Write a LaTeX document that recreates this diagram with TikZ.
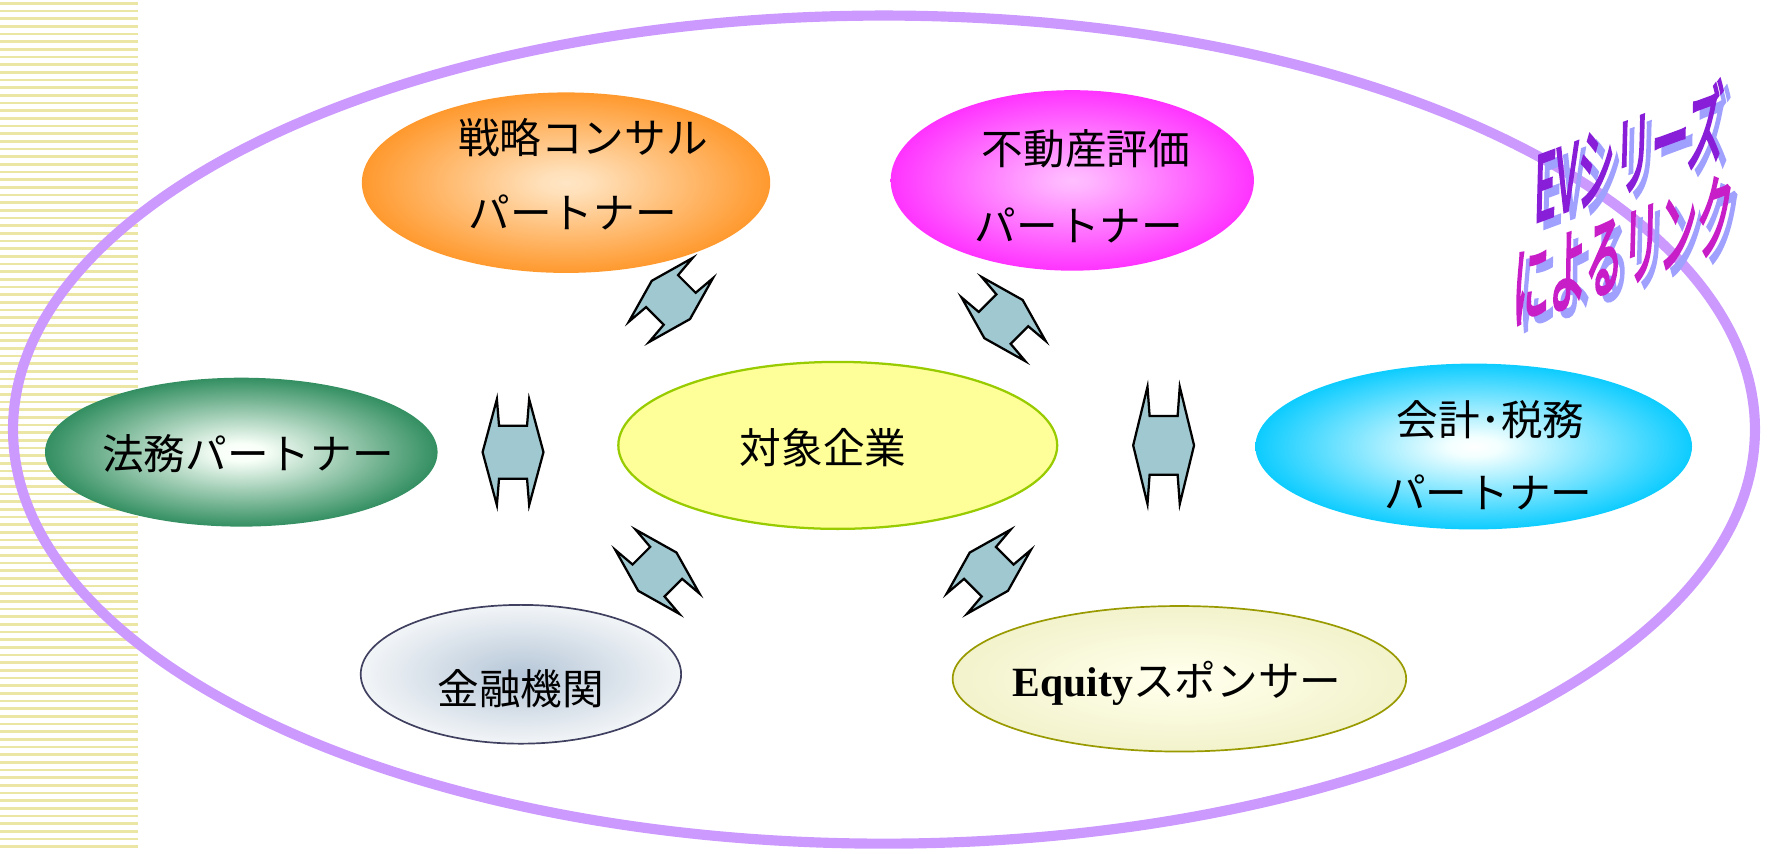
\documentclass[tikz,border=0pt]{standalone}
\usepackage{fontspec}
\setmainfont{Noto Sans CJK JP}
\newfontfamily\tms{Liberation Serif}
\newfontfamily\wafont{Noto Sans CJK JP}[FakeBold=4,FakeSlant=0.22]
\usetikzlibrary{shapes.geometric}
\pgfdeclareradialshading{shOrange}{\pgfpoint{0bp}{0bp}}{rgb(0bp)=(1,0.9,0.77);rgb(3bp)=(1,0.88,0.73);rgb(25bp)=(1,0.6,0.18);rgb(50bp)=(1,0.6,0.18)}
\pgfdeclareradialshading{shMag}{\pgfpoint{0bp}{0bp}}{rgb(0bp)=(1,0.75,1);rgb(3bp)=(1,0.7,1);rgb(25bp)=(1,0.2,1);rgb(50bp)=(1,0.2,1)}
\pgfdeclareradialshading{shGreen}{\pgfpoint{0bp}{0bp}}{rgb(0bp)=(1,1,1);rgb(3bp)=(0.97,1,0.97);rgb(25bp)=(0.2,0.56,0.38);rgb(50bp)=(0.2,0.56,0.38)}
\pgfdeclareradialshading{shCyan}{\pgfpoint{0bp}{0bp}}{rgb(0bp)=(1,1,1);rgb(3bp)=(0.95,1,1);rgb(25bp)=(0.05,0.8,1);rgb(50bp)=(0.05,0.8,1)}
\pgfdeclareradialshading{shGray}{\pgfpoint{0bp}{0bp}}{rgb(0bp)=(0.72,0.78,0.85);rgb(3bp)=(0.74,0.8,0.86);rgb(25bp)=(0.95,0.96,0.97);rgb(50bp)=(0.95,0.96,0.97)}
\pgfdeclareradialshading{shEq}{\pgfpoint{0bp}{0bp}}{rgb(0bp)=(1,1,0.93);rgb(3bp)=(1,1,0.92);rgb(25bp)=(0.95,0.95,0.8);rgb(50bp)=(0.95,0.95,0.8)}
\definecolor{stripecol}{RGB}{236,230,165}
\definecolor{framecol}{RGB}{204,153,255}
\definecolor{arrowfill}{RGB}{160,200,208}
\definecolor{targetfill}{RGB}{255,255,153}
\definecolor{targetdraw}{RGB}{153,204,0}
\definecolor{bankdraw}{RGB}{64,64,96}
\definecolor{eqdraw}{RGB}{153,153,0}
\definecolor{waone}{RGB}{136,30,215}
\definecolor{watwo}{RGB}{200,30,200}
\definecolor{washadow}{RGB}{160,160,255}
\newcommand\dblarrow[5]{%
\begin{scope}[shift={(#1,#2)},rotate=#3]
\draw[dbl] ({-0.53*#4},{-#5}) -- ({-#4},0) -- ({-0.53*#4},{#5}) -- ({-0.46*#4},{0.5*#5}) -- ({0.46*#4},{0.5*#5}) -- ({0.53*#4},{#5}) -- ({#4},0) -- ({0.53*#4},{-#5}) -- ({0.46*#4},{-0.5*#5}) -- ({-0.46*#4},{-0.5*#5}) -- cycle;
\end{scope}}
\begin{document}
\begin{tikzpicture}[x=0.01cm,y=-0.01cm,
  ell/.style={ellipse,inner sep=0pt,outer sep=0pt},
  lbl/.style={inner sep=0pt,anchor=center,font=\fontsize{10.5pt}{12pt}\selectfont},
  dbl/.style={fill=arrowfill,draw=black,line width=0.02cm,line join=miter},
  stripe/.style={draw=stripecol,line width=0.024cm},
  wa/.style={inner sep=0pt,font=\wafont\fontsize{22pt}{24pt}\selectfont,xscale=0.43}]
\useasboundingbox (0,0) rectangle (1568,757);
\foreach \i in {0,...,110} \draw[stripe] (0,{3+6.8*\i}) -- (122,{3+6.8*\i});
\node[ell,draw=framecol,line width=0.09cm,minimum width=15.44cm,minimum height=7.34cm] (frame) at (784,381) {};
% ellipses
\node[ell,shading=shOrange,minimum width=3.62cm,minimum height=1.6cm] (senryaku) at (502,162) {};
\node[ell,shading=shMag,minimum width=3.22cm,minimum height=1.6cm] (fudosan) at (951,160) {};
\node[ell,shading=shGreen,minimum width=3.48cm,minimum height=1.32cm] (homu) at (214,401) {};
\node[ell,fill=targetfill,draw=targetdraw,line width=0.02cm,minimum width=3.89cm,minimum height=1.48cm] (taisho) at (743,395) {};
\node[ell,shading=shCyan,minimum width=3.87cm,minimum height=1.47cm] (kaikei) at (1307,396) {};
\node[ell,shading=shGray,draw=bankdraw,line width=0.015cm,minimum width=2.84cm,minimum height=1.23cm] (kinyu) at (462,598) {};
\node[ell,shading=shEq,draw=eqdraw,line width=0.015cm,minimum width=4.02cm,minimum height=1.29cm] (equity) at (1046,602) {};
% labels
\node[lbl] (t1a) at (517,122) {戦略コンサル};
\node[lbl] (t1b) at (508,188) {パートナー};
\node[lbl] (t2a) at (963,132) {不動産評価};
\node[lbl] (t2b) at (957,200) {パートナー};
\node[lbl] (t3) at (220,402) {法務パートナー};
\node[lbl] (t4) at (730,397) {対象企業};
\node[lbl] (t5a) at (1322,372) {会計･税務};
\node[lbl] (t5b) at (1320,437) {パートナー};
\node[lbl] (t6) at (462,611) {金融機関};
\node[lbl] (t7) at (1044,606) {{\tms\bfseries Equity}スポンサー};
% double arrows
\dblarrow{595}{266}{-45}{24}{40}
\dblarrow{890}{283}{45}{24}{40}
\dblarrow{455}{401}{0}{27}{47}
\dblarrow{1032}{395}{0}{27}{52}
\dblarrow{583}{507}{45}{24}{40}
\dblarrow{877}{507}{-45}{24}{40}
% word art
\node[wa,text=washadow,rotate=9] (wa1s) at (1448,142) {EVシリーズ};
\node[wa,text=waone,rotate=9] (wa1) at (1442,136) {EVシリーズ};
\node[wa,text=washadow,rotate=9] (wa2s) at (1443,228) {によるリンク};
\node[wa,text=watwo,rotate=9] (wa2) at (1437,222) {によるリンク};
\end{tikzpicture}
\end{document}
